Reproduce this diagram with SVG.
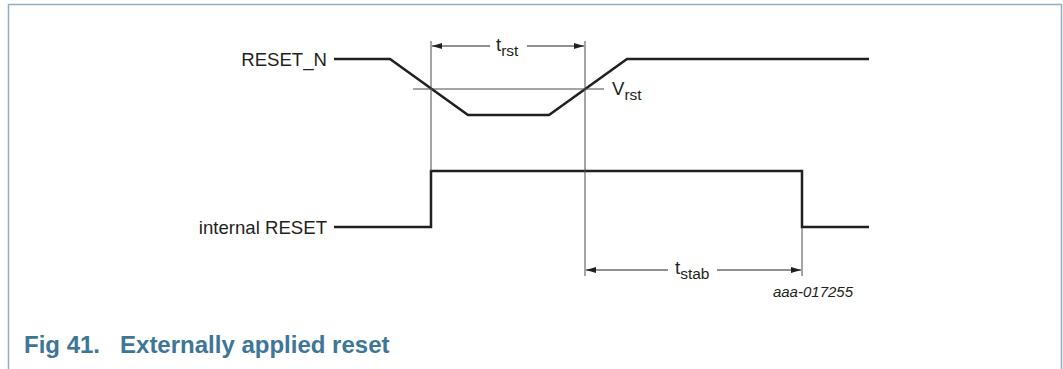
<svg xmlns="http://www.w3.org/2000/svg" width="1063" height="369" viewBox="0 0 1063 369">
<defs>
<style>
.sig{fill:none;stroke:#231f20;stroke-width:2.5;stroke-linejoin:miter}
.thin{fill:none;stroke:#4a4a4a;stroke-width:1}
.dim{fill:none;stroke:#231f20;stroke-width:1}
.lbl{font-family:"Liberation Sans",Arial,sans-serif;font-size:18.6px;fill:#231f20}
.sub{font-size:15.5px}
.code{font-family:"Liberation Sans",Arial,sans-serif;font-size:15px;font-style:italic;fill:#231f20}
.cap{font-family:"Liberation Sans",Arial,sans-serif;font-size:24px;font-weight:bold;fill:#3e7697}
</style>
<marker id="ah" viewBox="0 0 10 6" refX="10" refY="3" markerWidth="10" markerHeight="6" markerUnits="userSpaceOnUse" orient="auto-start-reverse">
<path d="M0,0 L10,3 L0,6 Z" fill="#231f20"/>
</marker>
</defs>
<rect x="0" y="0" width="1063" height="369" fill="#ffffff"/>
<path d="M8.5,369 V4.5 H1061.5 V369" fill="none" stroke="#8fb0c3" stroke-width="1.5"/>

<g id="reset_n">
<text class="lbl" x="327" y="66" text-anchor="end">RESET_N</text>
<path class="sig" d="M334,59 H390 L468,115 H549 L627,59 H869"/>
</g>

<g id="internal_reset">
<text class="lbl" x="327" y="234" text-anchor="end">internal RESET</text>
<path class="sig" d="M334,227 H431 V171 H802 V227 H869"/>
</g>

<g id="connectors">
<line class="thin" x1="431" y1="41" x2="431" y2="171"/>
<line class="thin" x1="585" y1="41" x2="585" y2="276"/>
<line class="thin" x1="802" y1="228" x2="802" y2="276"/>
<line class="thin" x1="413" y1="89" x2="604" y2="89"/>
<line class="dim" x1="432" y1="46" x2="490" y2="46" marker-start="url(#ah)"/>
<line class="dim" x1="527" y1="46" x2="584" y2="46" marker-end="url(#ah)"/>
<line class="dim" x1="586" y1="270" x2="668" y2="270" marker-start="url(#ah)"/>
<line class="dim" x1="717" y1="270" x2="801" y2="270" marker-end="url(#ah)"/>
</g>

<g id="t_rst">
<text class="lbl" x="496" y="51">t<tspan class="sub" dy="5">rst</tspan></text>
</g>
<g id="v_rst">
<text class="lbl" x="612" y="95">V<tspan class="sub" dy="5">rst</tspan></text>
</g>
<g id="t_stab">
<text class="lbl" x="675" y="274">t<tspan class="sub" dy="5">stab</tspan></text>
</g>

<text class="code" x="853" y="297" text-anchor="end">aaa-017255</text>
<text class="cap" x="24" y="353" xml:space="preserve">Fig 41.   Externally applied reset</text>
</svg>
